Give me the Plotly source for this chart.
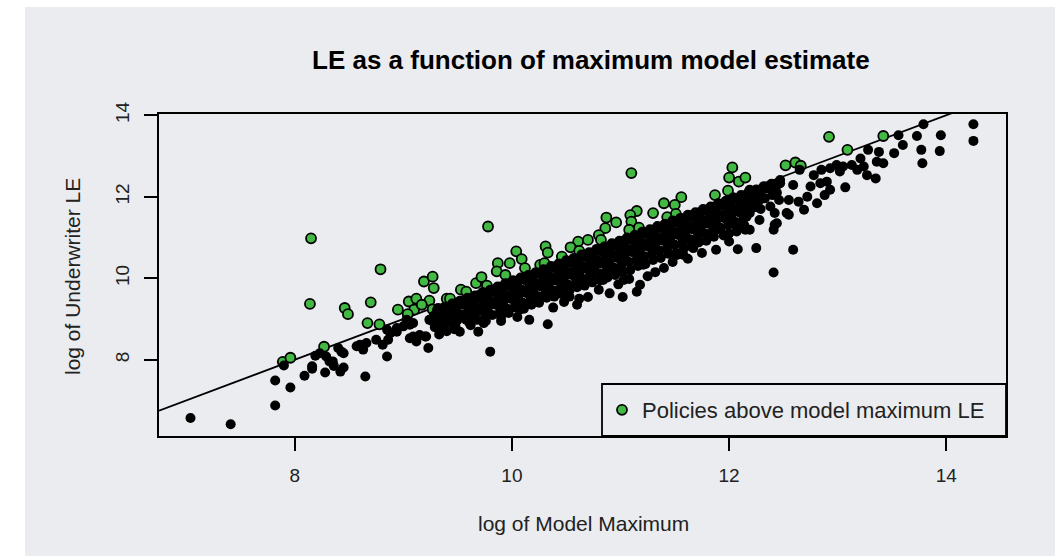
import plotly.graph_objects as go

# ---------------- data (log scale values) ----------------
green_pts = [
    (7.89, 7.95), (7.96, 8.05), (8.27, 8.32), (8.14, 9.37), (8.15, 10.98),
    (8.46, 9.27), (8.49, 9.12), (8.70, 9.41), (8.67, 8.90), (8.78, 8.87),
    (8.79, 10.22), (9.19, 9.92), (9.27, 10.04), (9.28, 9.76), (9.05, 9.43),
    (9.12, 9.50), (9.10, 9.23), (9.04, 9.12), (8.95, 9.23), (9.24, 9.45),
    (9.27, 9.24), (9.17, 9.35), (9.40, 9.50), (9.43, 9.50), (9.53, 9.72),
    (9.58, 9.67), (9.67, 9.88), (9.72, 10.03), (9.77, 9.82), (9.78, 11.27),
    (9.87, 10.37), (9.98, 10.37), (10.04, 10.66), (9.86, 10.17), (9.94, 10.08),
    (10.09, 10.47), (10.12, 10.25), (10.31, 10.78), (10.26, 10.33), (10.30, 10.37),
    (11.10, 12.58), (12.03, 12.72), (12.00, 12.47), (12.09, 12.37), (12.15, 12.47),
    (11.87, 12.04), (11.99, 12.15), (12.52, 12.77), (12.61, 12.84), (12.66, 12.76),
    (11.56, 11.99), (11.50, 11.80), (11.40, 11.84), (11.43, 11.50), (11.51, 11.58),
    (11.30, 11.60), (11.15, 11.65), (11.09, 11.55), (11.10, 11.39), (11.17, 11.24),
    (11.08, 11.19), (10.96, 11.37), (10.87, 11.49), (10.86, 11.23), (10.80, 11.06),
    (10.82, 10.94), (10.61, 10.90), (10.54, 10.76), (10.62, 10.67), (10.70, 10.94),
    (10.33, 10.63), (10.46, 10.53), (12.92, 13.47), (13.42, 13.49), (13.09, 13.15),
    (12.04, 11.96),
]

black_pts = [
    # sparse lower-left and outliers
    (7.04, 6.57), (7.41, 6.42), (7.82, 6.88), (7.82, 7.49), (7.96, 7.32), (7.90, 7.86),
    (8.09, 7.61), (8.16, 7.78), (8.28, 7.69), (8.19, 8.10), (8.23, 8.16), (8.32, 7.96),
    (8.36, 7.85), (8.42, 7.71), (8.45, 7.81), (8.65, 7.59), (8.40, 8.29), (8.45, 8.16),
    (8.60, 8.37), (8.63, 8.25), (8.75, 8.49), (8.81, 8.37), (8.85, 8.08), (8.86, 8.49),
    (8.94, 8.69), (8.88, 8.65), (9.06, 8.53), (9.12, 8.45), (9.15, 8.61), (9.21, 8.57),
    (9.23, 8.29), (9.03, 8.98), (9.09, 8.90), (9.27, 8.94), (9.00, 8.82), (8.94, 8.78),
    (9.38, 9.14), (9.37, 8.86), (8.57, 8.33), (8.43, 8.20), (8.35, 7.96), (8.29, 8.08),
    (8.16, 7.84), (8.66, 8.41), (8.85, 8.74), (9.06, 8.86), (9.09, 8.57), (9.20, 8.57),
    (9.24, 8.98), (9.32, 9.27), (9.43, 9.06), (9.49, 9.14), (9.52, 8.69), (9.47, 8.94),
    (9.58, 8.98), (9.64, 9.14), (9.69, 8.69), (9.74, 8.90), (9.80, 8.20), (10.16, 8.98),
    (10.33, 8.87), (10.07, 9.23), (10.60, 9.35), (10.70, 9.54), (10.90, 9.63), (11.02, 9.54),
    (11.15, 9.67), (10.25, 9.55), (10.44, 9.63), (10.53, 9.55), (11.32, 10.15), (11.18, 9.84),
    (11.52, 10.57), (11.58, 10.57), (11.67, 10.74), (11.21, 10.33), (10.95, 10.16), (11.03, 9.96),
    (10.84, 9.96), (10.72, 10.04), (12.08, 10.71), (12.25, 10.74), (12.41, 10.14), (12.59, 10.70),
    (9.90, 8.95), (10.05, 9.05), (10.38, 9.28), (10.48, 9.42), (10.62, 9.50), (10.80, 9.72),
    (10.98, 9.85), (11.08, 9.98), (11.25, 10.05), (11.40, 10.25), (11.48, 10.40), (11.62, 10.48),
    (11.75, 10.62), (11.88, 10.70), (12.00, 10.90), (11.95, 11.05),
    # upper right
    (14.25, 13.78), (14.25, 13.37), (13.95, 13.51), (13.94, 13.12), (13.79, 13.78), (13.73, 13.49),
    (13.77, 13.15), (13.78, 12.82), (13.60, 13.27), (13.52, 13.07), (13.42, 12.82), (13.56, 13.51),
    (13.38, 13.10), (13.28, 13.15), (13.35, 12.45), (13.21, 12.94), (13.24, 12.74), (13.27, 12.53),
    (13.18, 12.66), (13.13, 12.78), (13.07, 12.23), (13.05, 12.74), (12.99, 12.78), (12.93, 12.70),
    (13.02, 12.62), (12.85, 12.66), (12.90, 12.37), (12.93, 12.17), (12.88, 12.04), (12.81, 11.84),
    (12.84, 12.33), (12.78, 12.53), (12.75, 12.25), (12.72, 12.00), (12.69, 11.68), (12.65, 12.66),
    (12.59, 12.29), (12.55, 11.56), (12.42, 11.31), (12.55, 11.92), (12.47, 12.41), (12.35, 12.25),
    (12.19, 12.17), (12.28, 11.92), (12.38, 11.76), (12.19, 11.60), (12.28, 11.43), (12.15, 11.19),
    (12.07, 11.15), (12.42, 11.60), (13.36, 12.86), (12.53, 11.60), (12.44, 11.35), (12.41, 11.19),
    (12.64, 11.88), (12.47, 12.33), (12.38, 12.25), (12.22, 12.00), (12.10, 11.72), (12.16, 11.51),
    (12.07, 11.27), (12.19, 11.19), (11.99, 11.47), (11.92, 11.19), (11.84, 11.43),
    # dense band
    (9.31, 9.22), (9.28, 9.08), (9.32, 8.95), (9.29, 8.80), (9.33, 8.62),
    (9.38, 9.30), (9.35, 9.12), (9.39, 9.00), (9.36, 8.86), (9.40, 8.70),
    (9.45, 9.38), (9.42, 9.20), (9.46, 9.05), (9.43, 8.92), (9.47, 8.75),
    (9.52, 9.45), (9.49, 9.30), (9.53, 9.12), (9.50, 8.98),
    (9.59, 9.52), (9.56, 9.35), (9.60, 9.22), (9.57, 9.05), (9.61, 8.90),
    (9.66, 9.58), (9.63, 9.44), (9.67, 9.28), (9.64, 9.14), (9.68, 8.98),
    (9.73, 9.66), (9.70, 9.50), (9.74, 9.35), (9.71, 9.20), (9.75, 9.02),
    (9.80, 9.72), (9.77, 9.58), (9.81, 9.44), (9.78, 9.28), (9.82, 9.10),
    (9.87, 9.80), (9.84, 9.66), (9.88, 9.50), (9.85, 9.35), (9.89, 9.18),
    (9.94, 9.88), (9.91, 9.72), (9.95, 9.58), (9.92, 9.42), (9.96, 9.25),
    (10.01, 9.95), (9.98, 9.80), (10.02, 9.66), (9.99, 9.50), (10.03, 9.33), (9.97, 9.15),
    (10.08, 10.02), (10.05, 9.88), (10.09, 9.72), (10.06, 9.58), (10.10, 9.40),
    (10.15, 10.08), (10.12, 9.95), (10.16, 9.80), (10.13, 9.64), (10.17, 9.46), (10.11, 9.25),
    (10.22, 10.15), (10.19, 10.02), (10.23, 9.88), (10.20, 9.72), (10.24, 9.55),
    (10.29, 10.22), (10.26, 10.10), (10.30, 9.94), (10.27, 9.80), (10.31, 9.62), (10.25, 9.40),
    (10.36, 10.30), (10.33, 10.16), (10.37, 10.02), (10.34, 9.86), (10.38, 9.70),
    (10.43, 10.36), (10.40, 10.24), (10.44, 10.08), (10.41, 9.94), (10.45, 9.76), (10.39, 9.55),
    (10.50, 10.44), (10.47, 10.30), (10.51, 10.16), (10.48, 10.00), (10.52, 9.84),
    (10.57, 10.50), (10.54, 10.38), (10.58, 10.22), (10.55, 10.08), (10.59, 9.90), (10.53, 9.70),
    (10.64, 10.58), (10.61, 10.44), (10.65, 10.30), (10.62, 10.14), (10.66, 9.98),
    (10.71, 10.64), (10.68, 10.52), (10.72, 10.36), (10.69, 10.22), (10.73, 10.05), (10.67, 9.82),
    (10.78, 10.72), (10.75, 10.58), (10.79, 10.44), (10.76, 10.28), (10.80, 10.12),
    (10.85, 10.78), (10.82, 10.66), (10.86, 10.50), (10.83, 10.36), (10.87, 10.18), (10.81, 9.95),
    (10.92, 10.86), (10.89, 10.72), (10.93, 10.58), (10.90, 10.42), (10.94, 10.26),
    (10.99, 10.92), (10.96, 10.80), (11.00, 10.64), (10.97, 10.50), (11.01, 10.32), (10.95, 10.08),
    (11.06, 11.00), (11.03, 10.86), (11.07, 10.72), (11.04, 10.56), (11.08, 10.40),
    (11.13, 11.06), (11.10, 10.94), (11.14, 10.78), (11.11, 10.64), (11.15, 10.46), (11.09, 10.20),
    (11.20, 11.14), (11.17, 11.00), (11.21, 10.86), (11.18, 10.70), (11.22, 10.54),
    (11.27, 11.20), (11.24, 11.08), (11.28, 10.92), (11.25, 10.78), (11.29, 10.60), (11.23, 10.35),
    (11.34, 11.28), (11.31, 11.14), (11.35, 11.00), (11.32, 10.84), (11.36, 10.68),
    (11.41, 11.34), (11.38, 11.22), (11.42, 11.06), (11.39, 10.92), (11.43, 10.74), (11.37, 10.50),
    (11.48, 11.42), (11.45, 11.28), (11.49, 11.14), (11.46, 10.98), (11.50, 10.82),
    (11.55, 11.48), (11.52, 11.36), (11.56, 11.20), (11.53, 11.06), (11.57, 10.88), (11.51, 10.62),
    (11.62, 11.56), (11.59, 11.42), (11.63, 11.28), (11.60, 11.12), (11.64, 10.96),
    (11.69, 11.62), (11.66, 11.50), (11.70, 11.34), (11.67, 11.20), (11.71, 11.02), (11.65, 10.78),
    (11.76, 11.70), (11.73, 11.56), (11.77, 11.42), (11.74, 11.26), (11.78, 11.10),
    (11.83, 11.76), (11.80, 11.64), (11.84, 11.48), (11.81, 11.34), (11.85, 11.16), (11.79, 10.92),
    (11.90, 11.84), (11.87, 11.70), (11.91, 11.56), (11.88, 11.40), (11.92, 11.24),
    (11.97, 11.90), (11.94, 11.78), (11.98, 11.62), (11.95, 11.48), (11.99, 11.30),
    (12.04, 11.98), (12.01, 11.84), (12.05, 11.70), (12.02, 11.54), (12.06, 11.38),
    (12.11, 12.04), (12.08, 11.92), (12.12, 11.76), (12.09, 11.62), (12.13, 11.44),
    (12.18, 12.12), (12.15, 11.98), (12.19, 11.84), (12.16, 11.68),
    (12.25, 12.18), (12.22, 12.06), (12.26, 11.90), (12.23, 11.74),
    (12.32, 12.26), (12.29, 12.12), (12.33, 11.96),
    (12.39, 12.32), (12.36, 12.20), (12.40, 12.04),
    # band fill (staggered)
    (9.34, 9.15), (9.35, 9.02), (9.33, 8.74),
    (9.48, 9.34), (9.47, 9.18), (9.49, 9.00), (9.48, 8.82),
    (9.62, 9.48), (9.61, 9.30), (9.63, 9.10), (9.62, 8.85),
    (9.76, 9.62), (9.75, 9.47), (9.77, 9.12), (9.76, 8.95),
    (9.90, 9.76), (9.89, 9.55), (9.91, 9.30), (9.90, 9.05),
    (10.04, 9.90), (10.03, 9.74), (10.05, 9.55), (10.04, 9.28),
    (10.18, 10.05), (10.17, 9.85), (10.19, 9.60), (10.18, 9.35),
    (10.32, 10.20), (10.31, 10.05), (10.33, 9.75), (10.32, 9.52),
    (10.46, 10.34), (10.45, 10.12), (10.47, 9.90), (10.46, 9.62),
    (10.60, 10.48), (10.59, 10.25), (10.61, 10.02), (10.60, 9.78),
    (10.74, 10.62), (10.73, 10.40), (10.75, 10.15), (10.74, 9.90),
    (10.88, 10.76), (10.87, 10.55), (10.89, 10.30), (10.88, 10.02),
    (11.02, 10.90), (11.01, 10.68), (11.03, 10.45), (11.02, 10.15),
    (11.16, 11.04), (11.15, 10.82), (11.17, 10.58), (11.16, 10.30),
    (11.30, 11.18), (11.29, 10.96), (11.31, 10.72), (11.30, 10.45),
    (11.44, 11.32), (11.43, 11.10), (11.45, 10.86), (11.44, 10.60),
    (11.58, 11.46), (11.57, 11.24), (11.59, 11.00), (11.58, 10.72),
    (11.72, 11.60), (11.71, 11.38), (11.73, 11.14), (11.72, 10.88),
    (11.86, 11.74), (11.85, 11.52), (11.87, 11.28), (11.86, 11.02),
    (12.00, 11.86), (11.99, 11.65), (12.01, 11.42), (12.00, 11.10),
    (12.14, 12.00), (12.13, 11.80), (12.15, 11.55), (12.14, 11.30),
    (12.28, 12.15), (12.27, 11.95), (12.29, 11.70),
    (12.45, 12.30), (12.44, 12.10), (12.46, 11.92),
]

x_ticks = [8, 10, 12, 14]
y_ticks = [8, 10, 12, 14]
abline_intercept = 0.0
abline_slope = 1.0

title_text = "LE as a function of maximum model estimate"
x_title = "log of Model Maximum"
y_title = "log of Underwriter LE"
legend_label = "Policies above model maximum LE"

# ---------------- layout geometry ----------------
W, H = 1055, 556
L, R, T, B = 159, 49, 114, 120
pw, ph = W - L - R, H - T - B
x_range = [6.75, 14.55]
y_range = [6.13, 14.03]

def px_to_paper_x(px):
    return (px - L) / pw

def px_to_paper_y(py):
    return (H - B - py) / ph

bg = "#ebecef"
green = "#42b942"
FONT = "Liberation Sans, Arial, sans-serif"

gx = [p[0] for p in green_pts]
gy = [p[1] for p in green_pts]
bx = [p[0] for p in black_pts]
by = [p[1] for p in black_pts]

fig = go.Figure()

# reference line y = a + b x
lx = [x_range[0], x_range[1]]
ly = [abline_intercept + abline_slope * v for v in lx]
fig.add_trace(go.Scatter(x=lx, y=ly, mode="lines", line=dict(color="black", width=1.8),
                         showlegend=False, hoverinfo="skip"))

fig.add_trace(go.Scatter(x=gx, y=gy, mode="markers", name=legend_label,
                         marker=dict(size=10, color=green, line=dict(color="black", width=1.8)),
                         showlegend=True))
fig.add_trace(go.Scatter(x=bx, y=by, mode="markers",
                         marker=dict(size=10, color="black", line=dict(width=0)),
                         showlegend=False))

shapes = [
    dict(type="rect", xref="paper", yref="paper", layer="below",
         x0=px_to_paper_x(25), x1=px_to_paper_x(W + 5), y0=px_to_paper_y(H + 5), y1=px_to_paper_y(7),
         fillcolor=bg, line=dict(width=0)),
    dict(type="rect", xref="paper", yref="paper", layer="above",
         x0=px_to_paper_x(602), x1=1.0, y0=0.0, y1=px_to_paper_y(384),
         fillcolor="rgba(0,0,0,0)", line=dict(color="black", width=1.8)),
]

annotations = [
    dict(text="<b>" + title_text + "</b>", xref="paper", yref="paper",
         x=px_to_paper_x(591), y=px_to_paper_y(60), showarrow=False,
         xanchor="center", yanchor="middle", font=dict(size=26, color="black", family=FONT)),
    dict(text=x_title, xref="paper", yref="paper",
         x=px_to_paper_x(583), y=px_to_paper_y(523), showarrow=False,
         xanchor="center", yanchor="middle", font=dict(size=21, color="#222", family=FONT)),
    dict(text=y_title, xref="paper", yref="paper", textangle=-90,
         x=px_to_paper_x(72), y=px_to_paper_y(277), showarrow=False,
         xanchor="center", yanchor="middle", font=dict(size=21, color="#222", family=FONT)),
]

fig.update_layout(
    width=W, height=H,
    margin=dict(l=L, r=R, t=T, b=B, pad=0),
    paper_bgcolor="white", plot_bgcolor=bg,
    shapes=shapes, annotations=annotations,
    showlegend=True,
    legend=dict(x=px_to_paper_x(602), y=px_to_paper_y(410), xanchor="left", yanchor="middle",
                bgcolor="rgba(0,0,0,0)", borderwidth=0,
                font=dict(size=22, color="#222", family=FONT)),
    font=dict(family=FONT, color="#222"),
)

fig.update_xaxes(range=x_range, tickvals=x_ticks, ticktext=[str(v) for v in x_ticks],
                 showgrid=False, zeroline=False, showline=True, mirror=True,
                 linecolor="black", linewidth=1.8, ticks="outside", ticklen=13, tickwidth=1.8,
                 tickcolor="black", tickfont=dict(size=19, color="#222", family=FONT),
                 ticklabelstandoff=8)
fig.update_yaxes(range=y_range, tickvals=y_ticks, ticktext=[str(v) for v in y_ticks],
                 showgrid=False, zeroline=False, showline=True, mirror=True,
                 linecolor="black", linewidth=1.8, ticks="outside", ticklen=13, tickwidth=1.8,
                 tickcolor="black", tickangle=-90, tickfont=dict(size=19, color="#222", family=FONT),
                 ticklabelstandoff=8)

fig.write_html("out.html")
